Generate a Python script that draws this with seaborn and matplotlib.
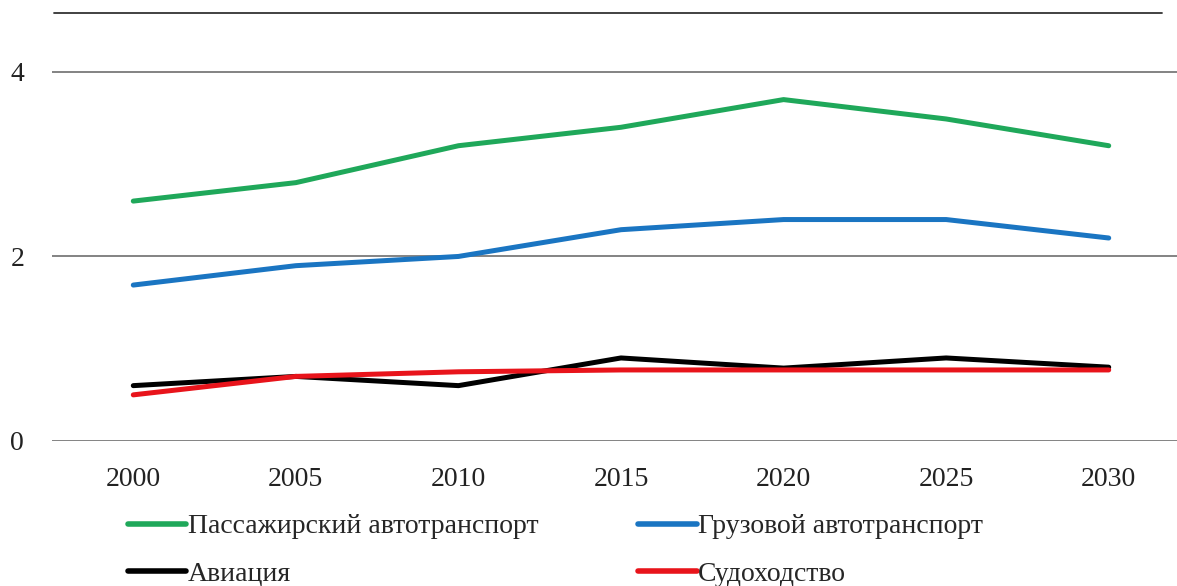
import matplotlib
matplotlib.use("Agg")
import matplotlib.pyplot as plt
import seaborn as sns
import pandas as pd
from matplotlib.lines import Line2D

years = [2000, 2005, 2010, 2015, 2020, 2025, 2030]
passenger = [2.6, 2.8, 3.2, 3.4, 3.7, 3.49, 3.2]
freight = [1.69, 1.9, 2.0, 2.29, 2.4, 2.4, 2.2]
aviation = [0.6, 0.7, 0.6, 0.9, 0.79, 0.9, 0.8]
shipping = [0.5, 0.7, 0.75, 0.77, 0.77, 0.77, 0.77]
names = ["Пассажирский автотранспорт", "Грузовой автотранспорт", "Авиация", "Судоходство"]
colors = ["#1FA85A", "#1A75C2", "#000000", "#E8141B"]
yticks = [0, 2, 4]

rows = []
for name, vals in zip(names, [passenger, freight, aviation, shipping]):
    for y, v in zip(years, vals):
        rows.append({"year": y, "value": v, "series": name})
df = pd.DataFrame(rows)

sns.set_theme(style="white")
plt.rcParams["font.family"] = ["Liberation Serif", "DejaVu Serif"]

fig = plt.figure(figsize=(11.77, 5.86), dpi=100)
ax = fig.add_axes([52/1177, 1-441/586, 1-52/1177, (441-35)/586])

sns.lineplot(data=df, x="year", y="value", hue="series", hue_order=names,
             palette=colors, linewidth=3.6, ax=ax, sort=False, legend=True)

ax.set_xlim(1997.5, 2032.1)
ax.set_ylim(0, 4.4)
ax.set_yticks(yticks)
ax.set_xticks(years)
ax.set_xticklabels([str(y) for y in years])
ax.set_xlabel("")
ax.set_ylabel("")
for s in ax.spines.values():
    s.set_visible(False)
ax.yaxis.grid(True, color="#7a7a7a", linewidth=1.3)
ax.set_axisbelow(True)
ax.tick_params(axis="both", length=0, labelsize=20, colors="#222222")
ax.tick_params(axis="y", pad=20)
ax.tick_params(axis="x", pad=19)

ax.get_legend().remove()
order = [names[0], names[2], names[1], names[3]]
leg_handles = [Line2D([0], [0], color=colors[names.index(n)], linewidth=4) for n in order]
fig.legend(leg_handles, order, loc="upper left", bbox_to_anchor=(128/1177, 1-514/586),
           ncol=2, frameon=False, fontsize=20, handlelength=2.1, handletextpad=0.05,
           columnspacing=3.6, labelspacing=0.78, borderpad=0, borderaxespad=0)

fig.add_artist(Line2D([54/1177, 1162/1177], [1-13/586, 1-13/586], color="#333333",
                      linewidth=1.3, transform=fig.transFigure))

fig.savefig("out.png", dpi=100)
